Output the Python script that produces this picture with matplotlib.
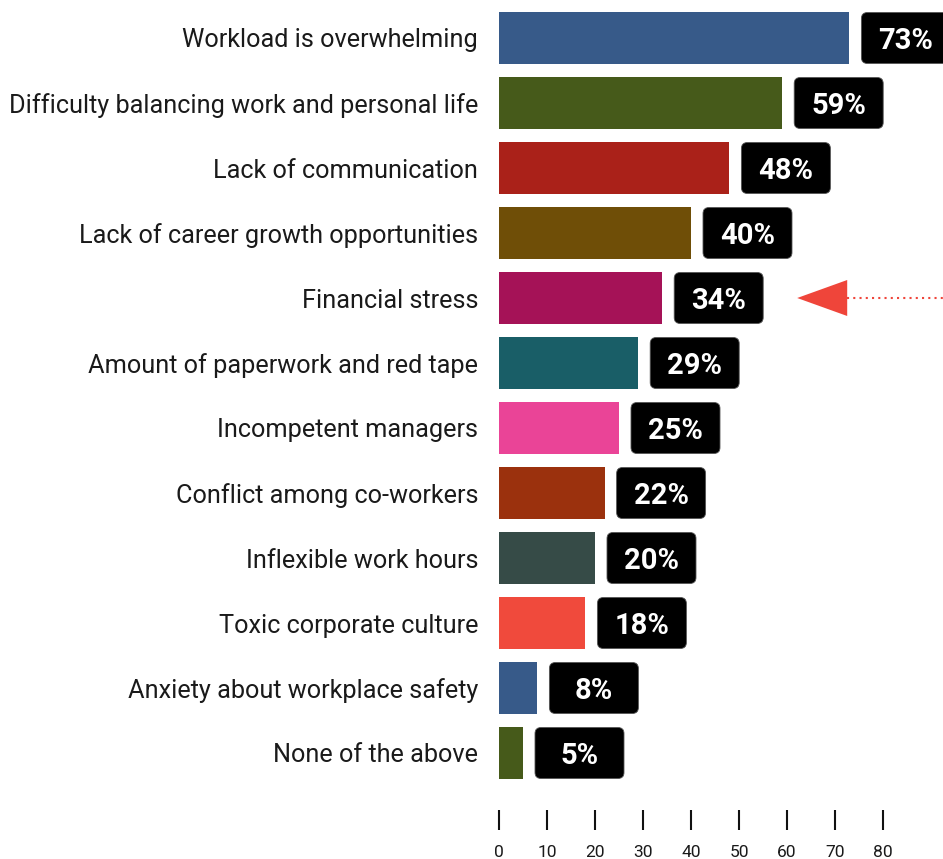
import matplotlib
matplotlib.use("Agg")
import matplotlib.pyplot as plt
from matplotlib.patches import FancyBboxPatch, Polygon
from matplotlib.transforms import IdentityTransform

plt.rcParams["font.family"] = ["Roboto", "DejaVu Sans"]

categories = [
    "Workload is overwhelming",
    "Difficulty balancing work and personal life",
    "Lack of communication",
    "Lack of career growth opportunities",
    "Financial stress",
    "Amount of paperwork and red tape",
    "Incompetent managers",
    "Conflict among co-workers",
    "Inflexible work hours",
    "Toxic corporate culture",
    "Anxiety about workplace safety",
    "None of the above",
]
values = [73, 59, 48, 40, 34, 29, 25, 22, 20, 18, 8, 5]
colors = ["#375A89", "#465A1A", "#AA2119", "#6F4E07", "#A51257", "#195E67",
          "#EA4497", "#9B310D", "#364B47", "#F04A3C", "#375A89", "#465A1A"]
highlight = "Financial stress"

W, H = 943, 859
fig = plt.figure(figsize=(W / 100, H / 100), dpi=100)
ax = fig.add_axes([499 / W, 1 - 810 / H, 441.6 / W, 810 / H])

pos = list(range(len(categories)))
ax.barh(pos, values, height=0.8, color=colors)
ax.set_xlim(0, 92)
ax.set_ylim(-38 / 65 + 810 / 65, -38 / 65)

ax.set_yticks(pos)
ax.set_yticklabels(categories, fontsize=18.15, color="#1a1a1a")
ax.tick_params(axis="y", length=0, pad=15)
ax.set_xticks(range(0, 90, 10))
ax.tick_params(axis="x", length=14.4, width=1.5, color="#111111", pad=11,
               labelsize=12.5, labelcolor="#1a1a1a")
for s in ax.spines.values():
    s.set_visible(False)

# value boxes: fixed pixel size, placed just right of each bar
fig.canvas.draw()
to_px = ax.transData
box_w, box_h, gap = 89, 51, 12
for i, v in enumerate(values):
    x0, yc = to_px.transform((v, i))
    box = FancyBboxPatch((x0 + gap, yc - box_h / 2), box_w, box_h,
                         boxstyle="round,pad=0,rounding_size=6",
                         transform=IdentityTransform(), facecolor="black",
                         edgecolor="#555555", linewidth=0.6, clip_on=False)
    fig.patches.append(box)
    fig.text((x0 + gap + box_w / 2) / W, yc / H, f"{v}%", ha="center",
             va="center_baseline", color="white", fontsize=21,
             fontweight="bold")
    if categories[i] == highlight:
        tip = x0 + gap + box_w + 34
        base = tip + 50
        arrow = Polygon([(tip, yc), (base, yc + 18), (base, yc - 18)],
                        closed=True, transform=IdentityTransform(),
                        facecolor="#EF453A", edgecolor="none")
        fig.patches.append(arrow)
        fig.add_artist(plt.Line2D([base / W, 1.0], [yc / H, yc / H],
                                  transform=fig.transFigure, color="#EF453A",
                                  linewidth=1.5, linestyle=(0, (1, 2))))

fig.savefig("out.png", dpi=100)
